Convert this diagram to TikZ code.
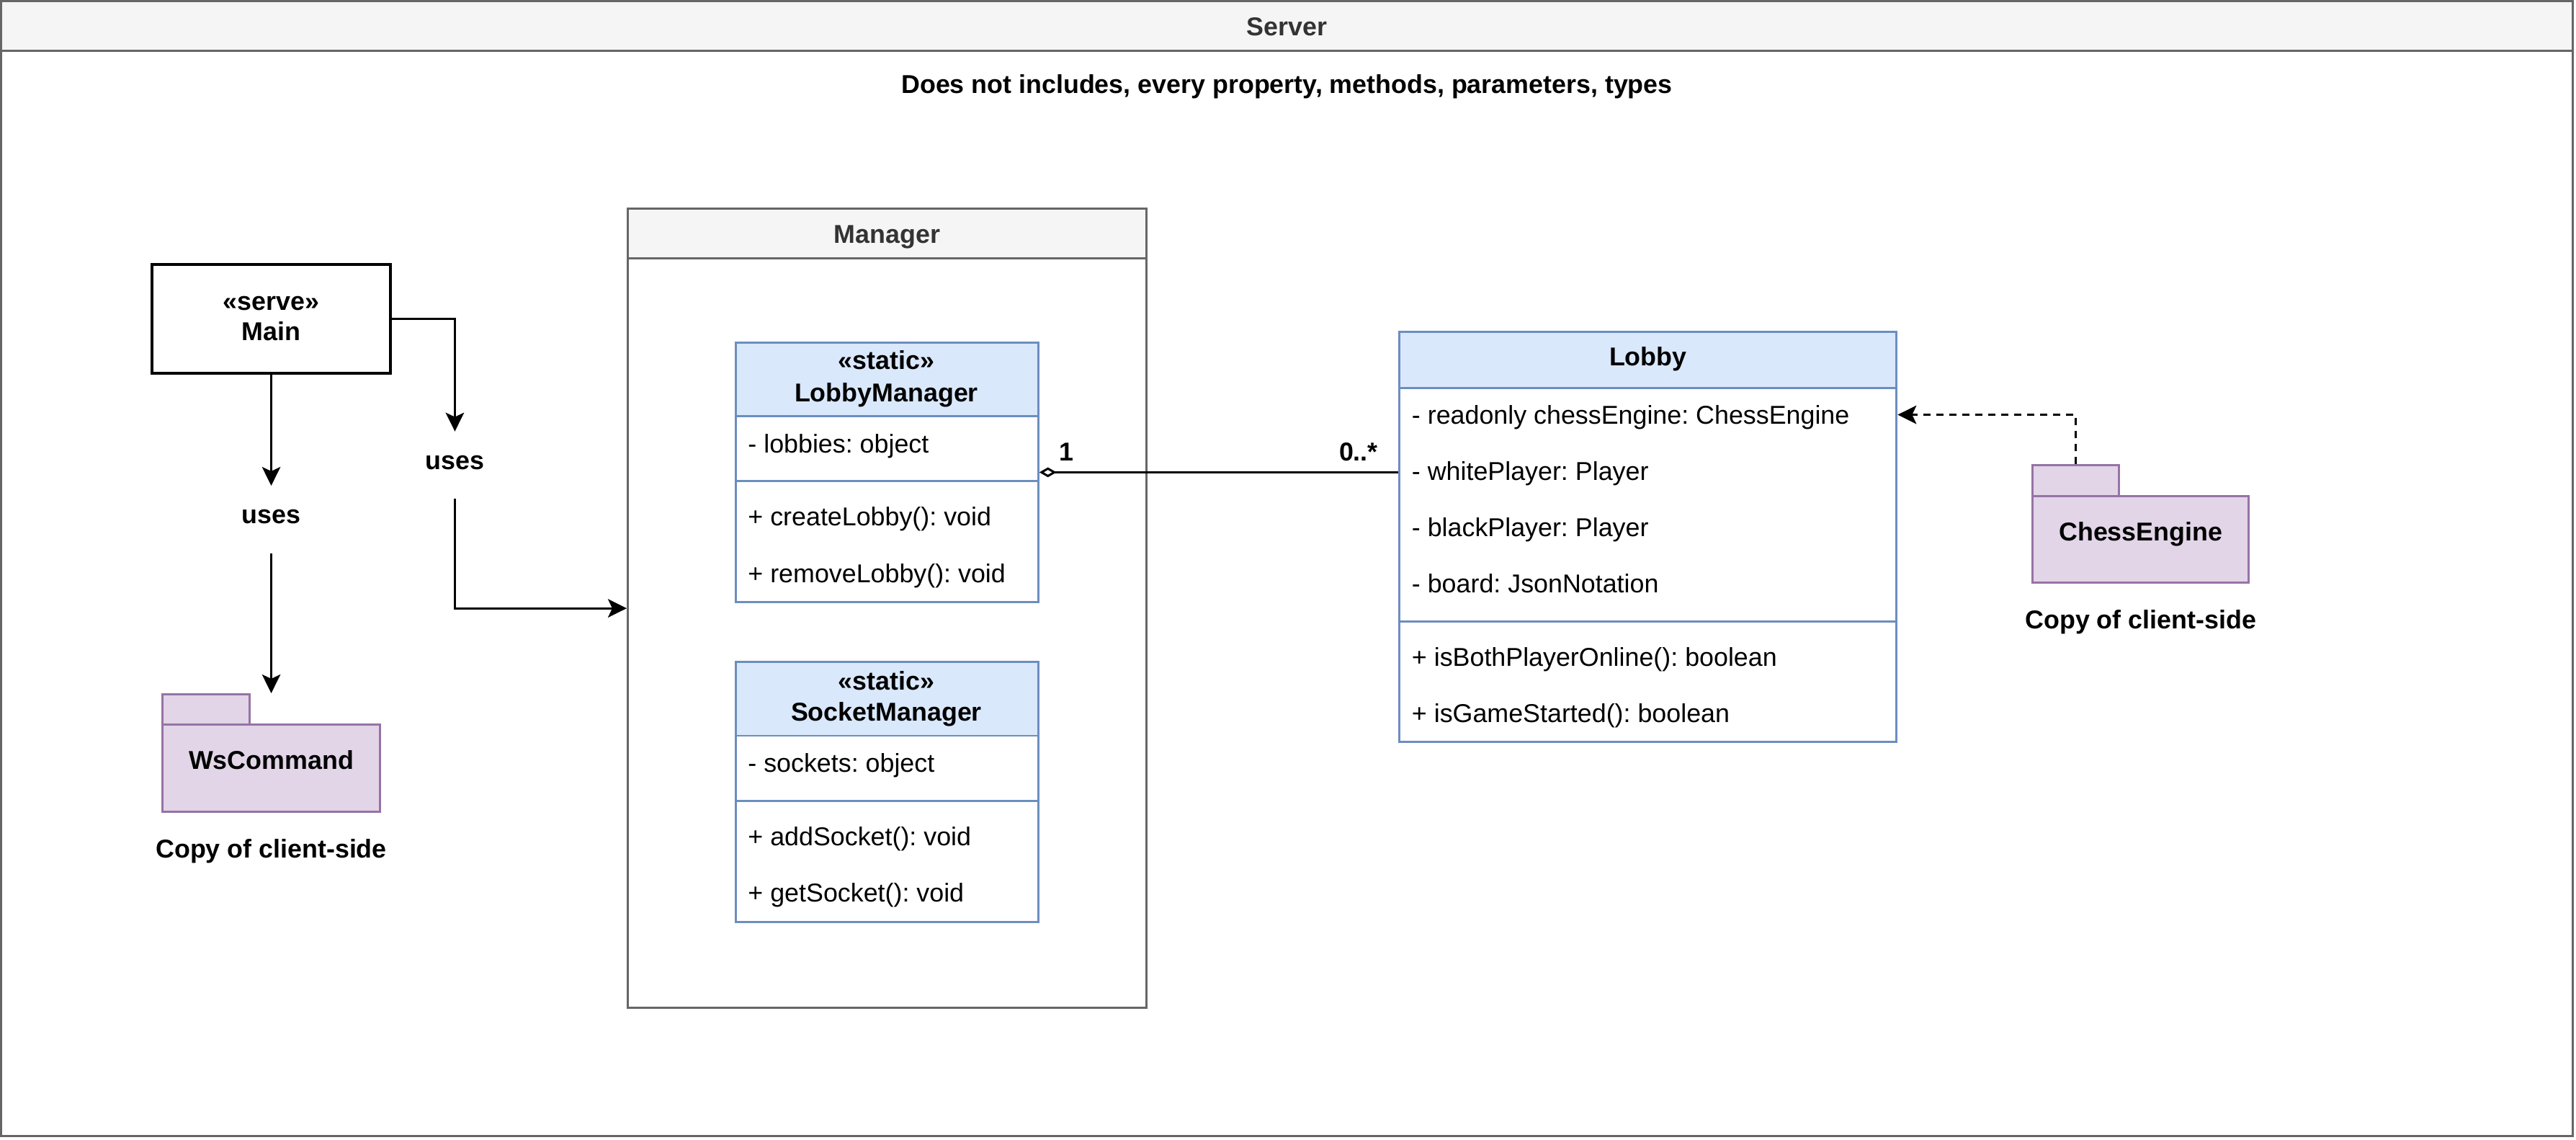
\documentclass[tikz,border=0pt]{standalone}
\usepackage{fontspec}
\setmainfont{Liberation Sans}
\usetikzlibrary{arrows.meta}
\definecolor{frame}{HTML}{666666}
\definecolor{titlefill}{HTML}{F5F5F5}
\definecolor{titletext}{HTML}{333333}
\definecolor{clsfill}{HTML}{DAE8FC}
\definecolor{clsline}{HTML}{6C8EBF}
\definecolor{pkgfill}{HTML}{E1D5E7}
\definecolor{pkgline}{HTML}{9673A6}
\newcommand\dfs{\fontsize{15.7}{18.8}\selectfont\frenchspacing}
\begin{document}
\begin{tikzpicture}[x=1pt,y=-1pt,line width=1.3pt,
  txt/.style={inner sep=0pt,text height=11.2pt,text depth=0pt,font=\dfs},
  rowtxt/.style={txt,anchor=west},
  btxt/.style={txt,font=\dfs\bfseries},
  usestxt/.style={inner sep=0pt,minimum width=60pt,minimum height=39.8pt,text height=8pt,text depth=3pt,font=\dfs\bfseries},
  frm/.style={draw=frame,line width=1.3pt},
  clsbox/.style={draw=clsline,fill=white,inner sep=0pt},
  hdr/.style={draw=clsline,fill=clsfill},
  pkg/.style={draw=pkgline,fill=pkgfill},
  arr/.style={-{Stealth[length=11.4pt,width=11.2pt,inset=2.6pt]},line width=1.3pt},
  agg/.style={{Diamond[open,length=10.4pt,width=6pt]}-,line width=1.3pt},
  dep/.style={-{Stealth[length=11.4pt,width=11.2pt,inset=2.6pt]},line width=1.3pt,dash pattern=on 4.3pt off 3.6pt},
]
\useasboundingbox (0,0) rectangle (1567,692.8);

% Server container
\node[frm,fill=white,inner sep=0pt,minimum width=1564.3pt,minimum height=690.1pt] (server) at (782.85,345.75) {};
\path[frm,fill=titlefill] (0.7,0.7) rectangle (1565,30.7);
\node[btxt,text=titletext] (servertitle) at (782.85,16) {Server};
\node[btxt] (note) at (782.85,51.3) {Does not includes, every property, methods, parameters, types};

% Manager container
\node[frm,fill=white,inner sep=0pt,minimum width=315.6pt,minimum height=485.8pt] (manager) at (539.7,369.9) {};
\path[frm,fill=titlefill] (381.9,127) rectangle (697.5,157.2);
\node[btxt,text=titletext] (managertitle) at (539.7,142.1) {Manager};

% LobbyManager
\node[clsbox,minimum width=184pt,minimum height=158pt] (lmgr) at (539.6,287.2) {};
\path[hdr] (447.6,208.2) rectangle (631.6,252.9);
\draw[clsline] (447.6,292.7) -- (631.6,292.7);
\node[btxt] (lmgrst) at (539.2,219) {«static»};
\node[btxt] (lmgrname) at (539.2,238.6) {LobbyManager};
\node[rowtxt] (lmgra1) at (454.4,269.6) {- lobbies: object};
\node[rowtxt] (lmgrm1) at (454.4,314.2) {+ createLobby(): void};
\node[rowtxt] (lmgrm2) at (454.4,348.5) {+ removeLobby(): void};

% SocketManager
\node[clsbox,minimum width=184pt,minimum height=158pt] (smgr) at (539.6,481.6) {};
\path[hdr] (447.6,402.6) rectangle (631.6,447.4);
\draw[clsline] (447.6,487) -- (631.6,487);
\node[btxt] (smgrst) at (539.2,414) {«static»};
\node[btxt] (smgrname) at (539.2,433) {SocketManager};
\node[rowtxt] (smgra1) at (454.4,464) {- sockets: object};
\node[rowtxt] (smgrm1) at (454.4,508.6) {+ addSocket(): void};
\node[rowtxt] (smgrm2) at (454.4,542.9) {+ getSocket(): void};

% Lobby
\node[clsbox,minimum width=302.4pt,minimum height=249pt] (lobby) at (1002.5,326.5) {};
\path[hdr] (851.3,202) rectangle (1153.7,236);
\draw[clsline] (851.3,377.8) -- (1153.7,377.8);
\node[btxt] (lobbyname) at (1002.5,216.6) {Lobby};
\node[rowtxt] (lobbya1) at (858.2,252.2) {- readonly chessEngine: ChessEngine};
\node[rowtxt] (lobbya2) at (858.2,286.6) {- whitePlayer: Player};
\node[rowtxt] (lobbya3) at (858.2,320.6) {- blackPlayer: Player};
\node[rowtxt] (lobbya4) at (858.2,354.6) {- board: JsonNotation};
\node[rowtxt] (lobbym1) at (858.2,399.4) {+ isBothPlayerOnline(): boolean};
\node[rowtxt] (lobbym2) at (858.2,433.5) {+ isGameStarted(): boolean};

% Main
\node[draw,line width=1.8pt,fill=white,inner sep=0pt,minimum width=144.8pt,minimum height=66.1pt] (main) at (165,193.75) {};
\node[btxt] (mainst) at (165,183.1) {«serve»};
\node[btxt] (mainname) at (165,201.6) {Main};

% WsCommand package
\node[inner sep=0pt,minimum width=132pt,minimum height=71.3pt] (ws) at (165,457.85) {};
\node[pkg,inner sep=0pt,minimum width=53pt,minimum height=18.4pt] (wstab) at (125.5,431.4) {};
\path[pkg] (99,440.6) rectangle (231,493.5);
\node[btxt] (wsname) at (165,462.3) {WsCommand};
\node[btxt] (wscopy) at (165,516.2) {Copy of client-side};

% ChessEngine package
\node[inner sep=0pt,minimum width=131.5pt,minimum height=71.3pt] (ce) at (1302.25,318.55) {};
\node[pkg,inner sep=0pt,minimum width=52.6pt,minimum height=18.7pt] (cetab) at (1262.8,292.25) {};
\path[pkg] (1236.5,301.6) rectangle (1368,354.2);
\node[btxt] (cename) at (1302.2,323.2) {ChessEngine};
\node[btxt] (cecopy) at (1302.2,376.7) {Copy of client-side};

% uses labels
\node[usestxt] (uses1) at (165,315.9) {uses};
\node[usestxt] (uses2) at (276.7,282.9) {uses};

% connectors
\draw[arr] (main.south) -- (uses1.north);
\draw[arr] (uses1.south) -- (ws.north);
\draw[arr] (main.east) -| (uses2.north);
\draw[arr] (uses2.south) |- (manager.west);
\draw[agg] (lmgr.east) -- (lmgr.east -| lobby.west);
\draw[dep] (cetab.north) |- (lobbya1.east -| lobby.east);

% multiplicities
\node[btxt] (mult1) at (648.7,274.5) {1};
\node[btxt] (mult2) at (826.4,274.5) {0..*};
\end{tikzpicture}
\end{document}
